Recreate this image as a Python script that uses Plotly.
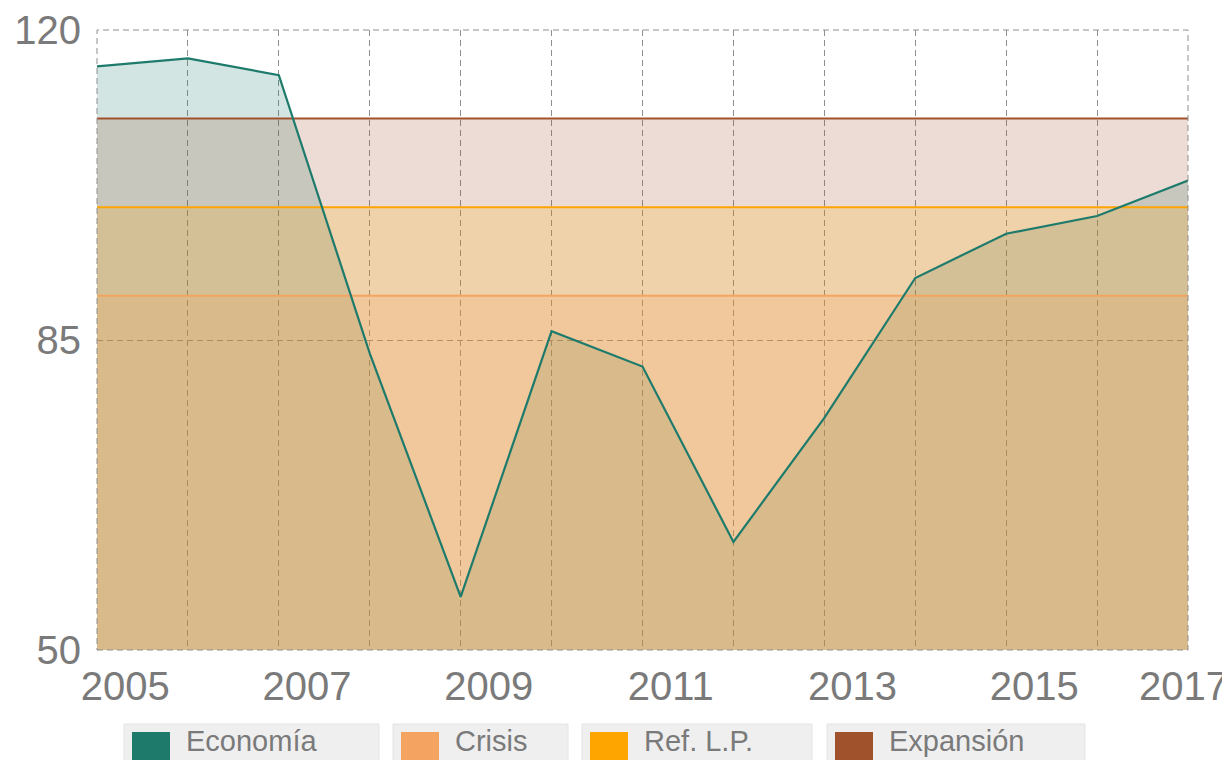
import plotly.graph_objects as go

# ---------------- data ----------------
years = list(range(2005, 2018))
economia = [115.9, 116.8, 114.9, 83.5, 56.0, 86.0, 82.0, 62.2, 76.2, 92.0, 97.0, 99.0, 103.0]
crisis_level = 90
ref_lp_level = 100
expansion_level = 110
tick_years = [2005, 2007, 2009, 2011, 2013, 2015, 2017]
y_ticks = [50, 85, 120]

series_names = ["Economía", "Crisis", "Ref. L.P.", "Expansión"]
series_colors = ["#1e7b6c", "#f4a460", "#ffa500", "#a0522d"]
fill_colors = ["rgba(30,123,108,0.2)", "rgba(244,164,96,0.2)",
               "rgba(255,165,0,0.2)", "rgba(160,82,45,0.2)"]

FONT = "Liberation Sans, Arial, sans-serif"
TXT = "#7a7a7a"
GRID = "#8f8f8f"
DASH = "6px,4px"

fig = go.Figure()

# Economía fill (drawn first, underneath the reference bands)
fig.add_trace(go.Scatter(
    x=years, y=economia, mode="none", name="Economía",
    fill="tozeroy", fillcolor=fill_colors[0], showlegend=False,
    hoverinfo="skip"))

# reference levels (filled down to bottom)
levels = {"Expansión": expansion_level, "Ref. L.P.": ref_lp_level, "Crisis": crisis_level}
for name in ["Expansión", "Ref. L.P.", "Crisis"]:
    i = series_names.index(name)
    fig.add_trace(go.Scatter(
        x=years, y=[levels[name]] * len(years), mode="lines", name=name,
        line=dict(color=series_colors[i], width=2),
        fill="tozeroy", fillcolor=fill_colors[i], showlegend=False,
        hoverinfo="skip"))

# Economía line on top
fig.add_trace(go.Scatter(
    x=years, y=economia, mode="lines", name="Economía",
    line=dict(color=series_colors[0], width=2.2), showlegend=False))

# ---------------- layout ----------------
# target plot-area edges in window pixels; page body adds an 8px offset
OFF = 8
L, R, T, B = 97, 1188, 30, 650
WW, WH = 1230, 760
W, H = WW - OFF, WH - OFF

def pxx(p):
    return (p - L) / (R - L)

def pxy(p):
    return (B - p) / (B - T)

# x tick labels sit slightly to the right of their gridline (last one pulled in)
tickpos = [y + 0.31 for y in tick_years[:-1]] + [tick_years[-1] - 0.05]

fig.update_layout(
    width=W, height=H,
    margin=dict(l=L - OFF, r=WW - R, t=T - OFF, b=WH - B, autoexpand=False),
    paper_bgcolor="white", plot_bgcolor="white",
    font=dict(family=FONT, color=TXT, size=40),
    showlegend=False,
    xaxis=dict(
        range=[2005, 2017], tickmode="array", tickvals=tickpos,
        ticktext=[str(y) for y in tick_years], showgrid=False,
        zeroline=False, showline=False, ticks="", automargin=False,
        tickfont=dict(size=40, color=TXT, family=FONT),
        ticklabelstandoff=9,
        minor=dict(tickmode="array", tickvals=years, showgrid=True,
                   gridcolor=GRID, griddash=DASH, gridwidth=1, ticks=""),
    ),
    yaxis=dict(
        range=[50, 120], tickmode="array", tickvals=y_ticks,
        showgrid=True, gridcolor=GRID, griddash=DASH, gridwidth=1,
        zeroline=False, showline=False, ticks="", automargin=False,
        tickfont=dict(size=40, color=TXT, family=FONT),
        ticklabelstandoff=15,
    ),
)

# dashed frame (edge gridlines)
fig.add_shape(type="rect", xref="paper", yref="paper", x0=0, x1=1, y0=0, y1=1,
              line=dict(color=GRID, width=1, dash=DASH), fillcolor="rgba(0,0,0,0)",
              layer="above")

# ---------------- custom legend (boxed items) ----------------
boxes = [(124, 379), (393, 568), (582, 812), (827, 1085)]
box_top, box_bot = 724, 800
sq = 38
for (bx0, bx1), name, col in zip(boxes, series_names, series_colors):
    fig.add_shape(type="rect", xref="paper", yref="paper",
                  x0=pxx(bx0), x1=pxx(bx1), y0=pxy(box_bot), y1=pxy(box_top),
                  fillcolor="#efefef", line=dict(color="#e4e4e4", width=1),
                  layer="above")
    fig.add_shape(type="rect", xref="paper", yref="paper",
                  x0=pxx(bx0 + 8), x1=pxx(bx0 + 8 + sq),
                  y0=pxy(732 + sq), y1=pxy(732),
                  fillcolor=col, line=dict(width=0), layer="above")
    fig.add_annotation(xref="paper", yref="paper", x=pxx(bx0 + 8 + sq + 14),
                       y=pxy(723), xanchor="left", yanchor="top",
                       text=name, showarrow=False,
                       font=dict(size=29, color=TXT, family=FONT))

fig.write_html("out.html")
